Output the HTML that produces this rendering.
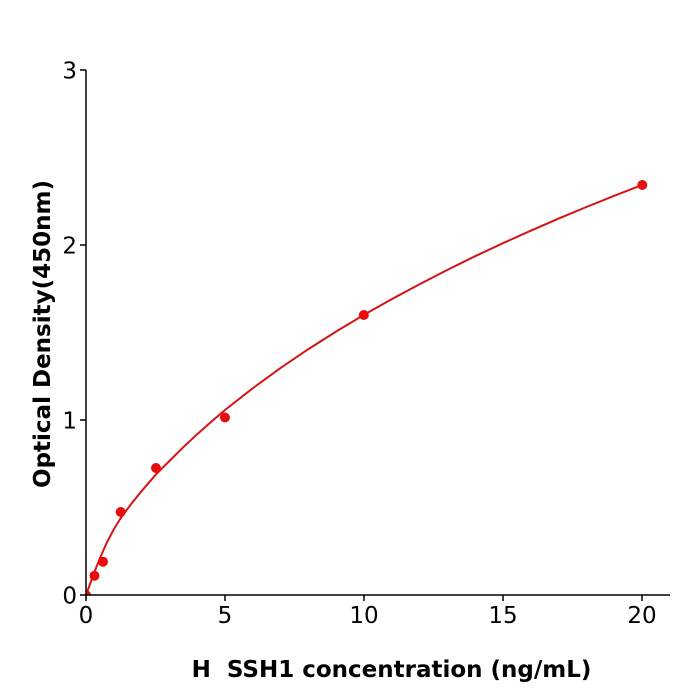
<!DOCTYPE html>
<html><head><meta charset="utf-8"><style>
html,body{margin:0;padding:0;background:#fff;}
svg{display:block;}
text{font-family:"DejaVu Sans","Liberation Sans",sans-serif;fill:#000;}
</style></head><body>
<svg width="700" height="700" viewBox="0 0 700 700" xmlns="http://www.w3.org/2000/svg">
<defs><clipPath id="pa"><rect x="86" y="60" width="590" height="535"/></clipPath></defs>
<rect width="700" height="700" fill="#fff"/>
<!-- curve -->
<polyline clip-path="url(#pa)" fill="none" stroke="#d41414" stroke-width="2" stroke-linejoin="round" points="86,595 90.17,583.6 94.69,571.4 99.9,558.25 106.85,542.5 113.8,529.4 120.75,518 130.5,504.9 141.6,491.05 155.5,474.95 169.4,461.0 183.3,447.2 197.2,434.2 211.1,421.9 225,410.0 252.8,388.2 280.6,367.9 308.4,349.1 336.2,331.5 364,314.8 391.8,299.1 419.6,284.2 447.4,269.9 475.2,256.2 503,243.2 530.8,230.7 558.6,218.6 586.4,207.0 614.2,195.8 642,185.0"/>
<!-- markers -->
<g fill="#e80c0c" clip-path="url(#pa)">
<circle cx="86" cy="595" r="5"/>
<circle cx="94.5" cy="575.7" r="5"/>
<circle cx="103" cy="561.7" r="5"/>
<circle cx="120.7" cy="512" r="5"/>
<circle cx="156" cy="468" r="5"/>
<circle cx="225" cy="417.5" r="5"/>
<circle cx="363.8" cy="315" r="5"/>
<circle cx="642.3" cy="185" r="5"/>
</g>
<!-- axes -->
<g stroke="#000" stroke-width="1.5" fill="none">
<line x1="86" y1="70" x2="86" y2="595.75"/>
<line x1="85.25" y1="595" x2="670" y2="595"/>
<line x1="80" y1="595" x2="86" y2="595"/>
<line x1="80" y1="420" x2="86" y2="420"/>
<line x1="80" y1="245" x2="86" y2="245"/>
<line x1="80" y1="70" x2="86" y2="70"/>
<line x1="86" y1="595" x2="86" y2="601"/>
<line x1="225" y1="595" x2="225" y2="601"/>
<line x1="364" y1="595" x2="364" y2="601"/>
<line x1="503" y1="595" x2="503" y2="601"/>
<line x1="642" y1="595" x2="642" y2="601"/>
</g>
<g font-size="23" text-anchor="end">
<text x="77" y="603.4">0</text>
<text x="77" y="428.4">1</text>
<text x="77" y="253.4">2</text>
<text x="77" y="78.4">3</text>
</g>
<g font-size="23" text-anchor="middle">
<text x="86" y="623">0</text>
<text x="225" y="623">5</text>
<text x="364" y="623">10</text>
<text x="503" y="623">15</text>
<text x="642" y="623">20</text>
</g>
<text x="391.5" y="677" font-size="23" font-weight="bold" text-anchor="middle" xml:space="preserve">H  SSH1 concentration (ng/mL)</text>
<text transform="translate(50,334) rotate(-90)" font-size="23" font-weight="bold" text-anchor="middle">Optical Density(450nm)</text>
</svg>
</body></html>
